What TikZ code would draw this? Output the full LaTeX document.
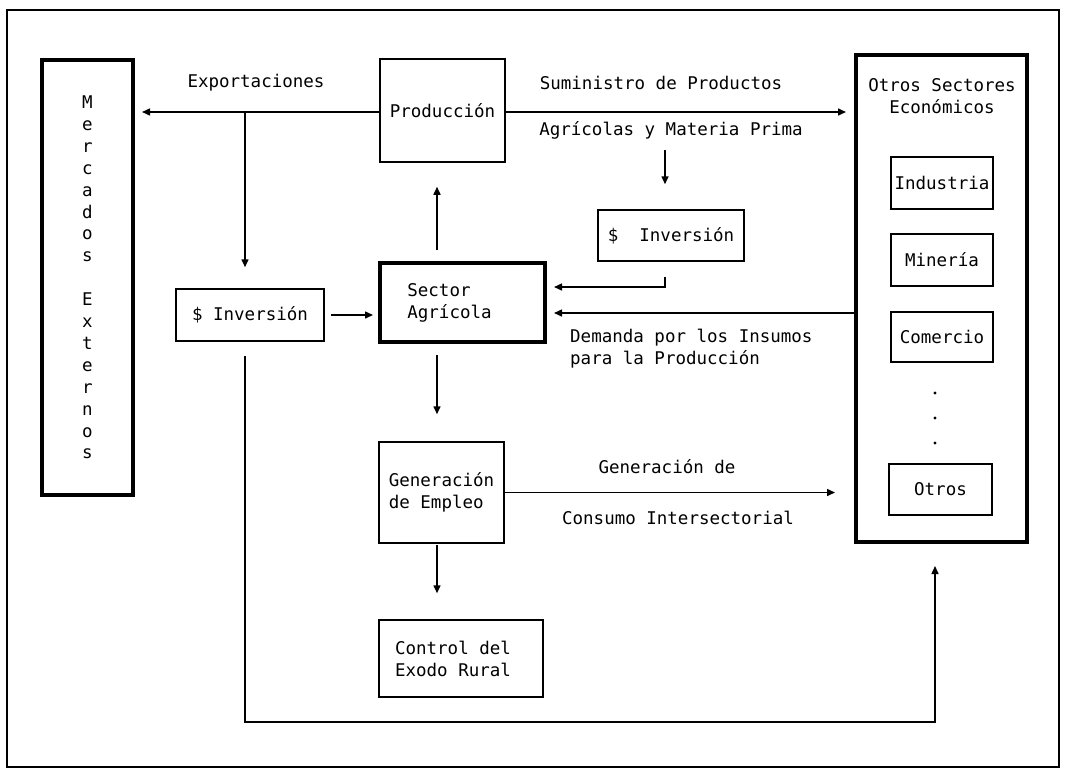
\documentclass[tikz,border=0pt]{standalone}
\usepackage{fontspec}
\setmonofont{DejaVu Sans Mono}
\usetikzlibrary{arrows.meta,calc}
\begin{document}
\begin{tikzpicture}[x=1pt,y=-1pt,
  every node/.style={font=\ttfamily\fontsize{17.5}{22}\selectfont, inner sep=0pt},
  thinbox/.style={draw, line width=1.5pt},
  thickbox/.style={draw, line width=4pt},
  arr/.style={line width=1.5pt, -{Triangle[length=8pt,width=7pt]}},
  ln/.style={line width=1.5pt}]
\useasboundingbox (0,0) rectangle (1065,772);
\draw[line width=1.2pt] (7,10) rectangle (1059,767);

% boxes
\node[thickbox, minimum width=91, minimum height=435, align=center,
      font=\ttfamily\fontsize{17.5}{21.9}\selectfont] (merc) at (87.5,277.5)
  {M\\e\\r\\c\\a\\d\\o\\s\\~\\E\\x\\t\\e\\r\\n\\o\\s};
\node[thinbox, minimum width=125, minimum height=103] (prod) at (442.5,110.5) {Producción};
\node[thinbox, minimum width=148, minimum height=52] (inv1) at (250,315) {\$ Inversión};
\node[thickbox, minimum width=165, minimum height=79, align=left] (sect) at (462.5,302.5)
  {Sector\\Agrícola\hspace*{26pt}};
\node[thinbox, minimum width=125, minimum height=101, align=left] (gen) at (441.5,492.5)
  {Generación\\de Empleo};
\node[thinbox, minimum width=164, minimum height=77, align=left] (ctrl) at (461,658.5)
  {Control del\\Exodo Rural\hspace*{16pt}};
\node[thinbox, minimum width=146, minimum height=51] (inv2) at (671,235.5) {\$\ \ Inversión};
\node[thickbox, minimum width=171, minimum height=487] (otros) at (941.5,298.5) {};
\node[align=center] (otitle) at (942,96) {Otros Sectores\\Económicos};
\node[thinbox, minimum width=102, minimum height=52] (ind) at (942,183) {Industria};
\node[thinbox, minimum width=102, minimum height=52] (min) at (942,260) {Minería};
\node[thinbox, minimum width=102, minimum height=50] (com) at (942,337) {Comercio};
\node[thinbox, minimum width=103, minimum height=51] (oth) at (940.5,489.5) {Otros};
\foreach \yy in {393,418,443} \fill (935,\yy) circle (1.6pt);

% labels
\node (lexp) at (256,83) {Exportaciones};
\node (lsum1) at (661,83) {Suministro de Productos};
\node (lsum2) at (671,130) {Agrícolas y Materia Prima};
\node[align=left, anchor=north west] (ldem) at (570,329) {Demanda por los Insumos\\para la Producción};
\node (lgen1) at (667,467) {Generación de};
\node (lgen2) at (678,518) {Consumo Intersectorial};

% connectors
\coordinate (j1) at (245,112);
\coordinate (j2) at (665,150);
\coordinate (j3) at (665,287);
\coordinate (j4) at (935,722);
\coordinate (up1) at (437,250);
\coordinate (dn1) at (437,355);
\coordinate (dn2) at (437,545);

\draw[arr, shorten >=7pt] ([yshift=-1.5pt]prod.west) -- ([yshift=-1.5pt]prod.west -| merc.east);
\draw[arr, shorten >=21pt] (j1) -- (j1 |- inv1.north);
\draw[arr, shorten <=6pt, shorten >=5pt] (inv1.east) -- (inv1.east -| sect.west);
\draw[arr, shorten >=24pt] (up1) -- (up1 |- prod.south);
\draw[arr, shorten >=27pt] (dn1) -- (dn1 |- gen.north);
\draw[arr, shorten >=26pt] (dn2) -- (dn2 |- ctrl.north);
\draw[arr, shorten >=8pt] ([yshift=-1.5pt]prod.east) -- ([yshift=-1.5pt]prod.east -| otros.west);
\draw[arr, shorten >=25pt] (j2) -- (j2 |- inv2.north);
\draw[arr, shorten <=15pt, shorten >=7pt] (j3 |- inv2.south) -- (j3) -- (j3 -| sect.east);
\draw[arr, shorten >=7pt] ([yshift=-10.5pt]sect.east -| otros.west) -- ([yshift=-10.5pt]sect.east);
\draw[arr, shorten >=19pt] (gen.east) -- (gen.east -| otros.west);
\draw[arr, shorten <=14pt, shorten >=22pt] ([xshift=-5pt]inv1.south) -- ([xshift=-5pt]inv1.south |- j4) -- (j4) -- (j4 |- otros.south);
\end{tikzpicture}
\end{document}
